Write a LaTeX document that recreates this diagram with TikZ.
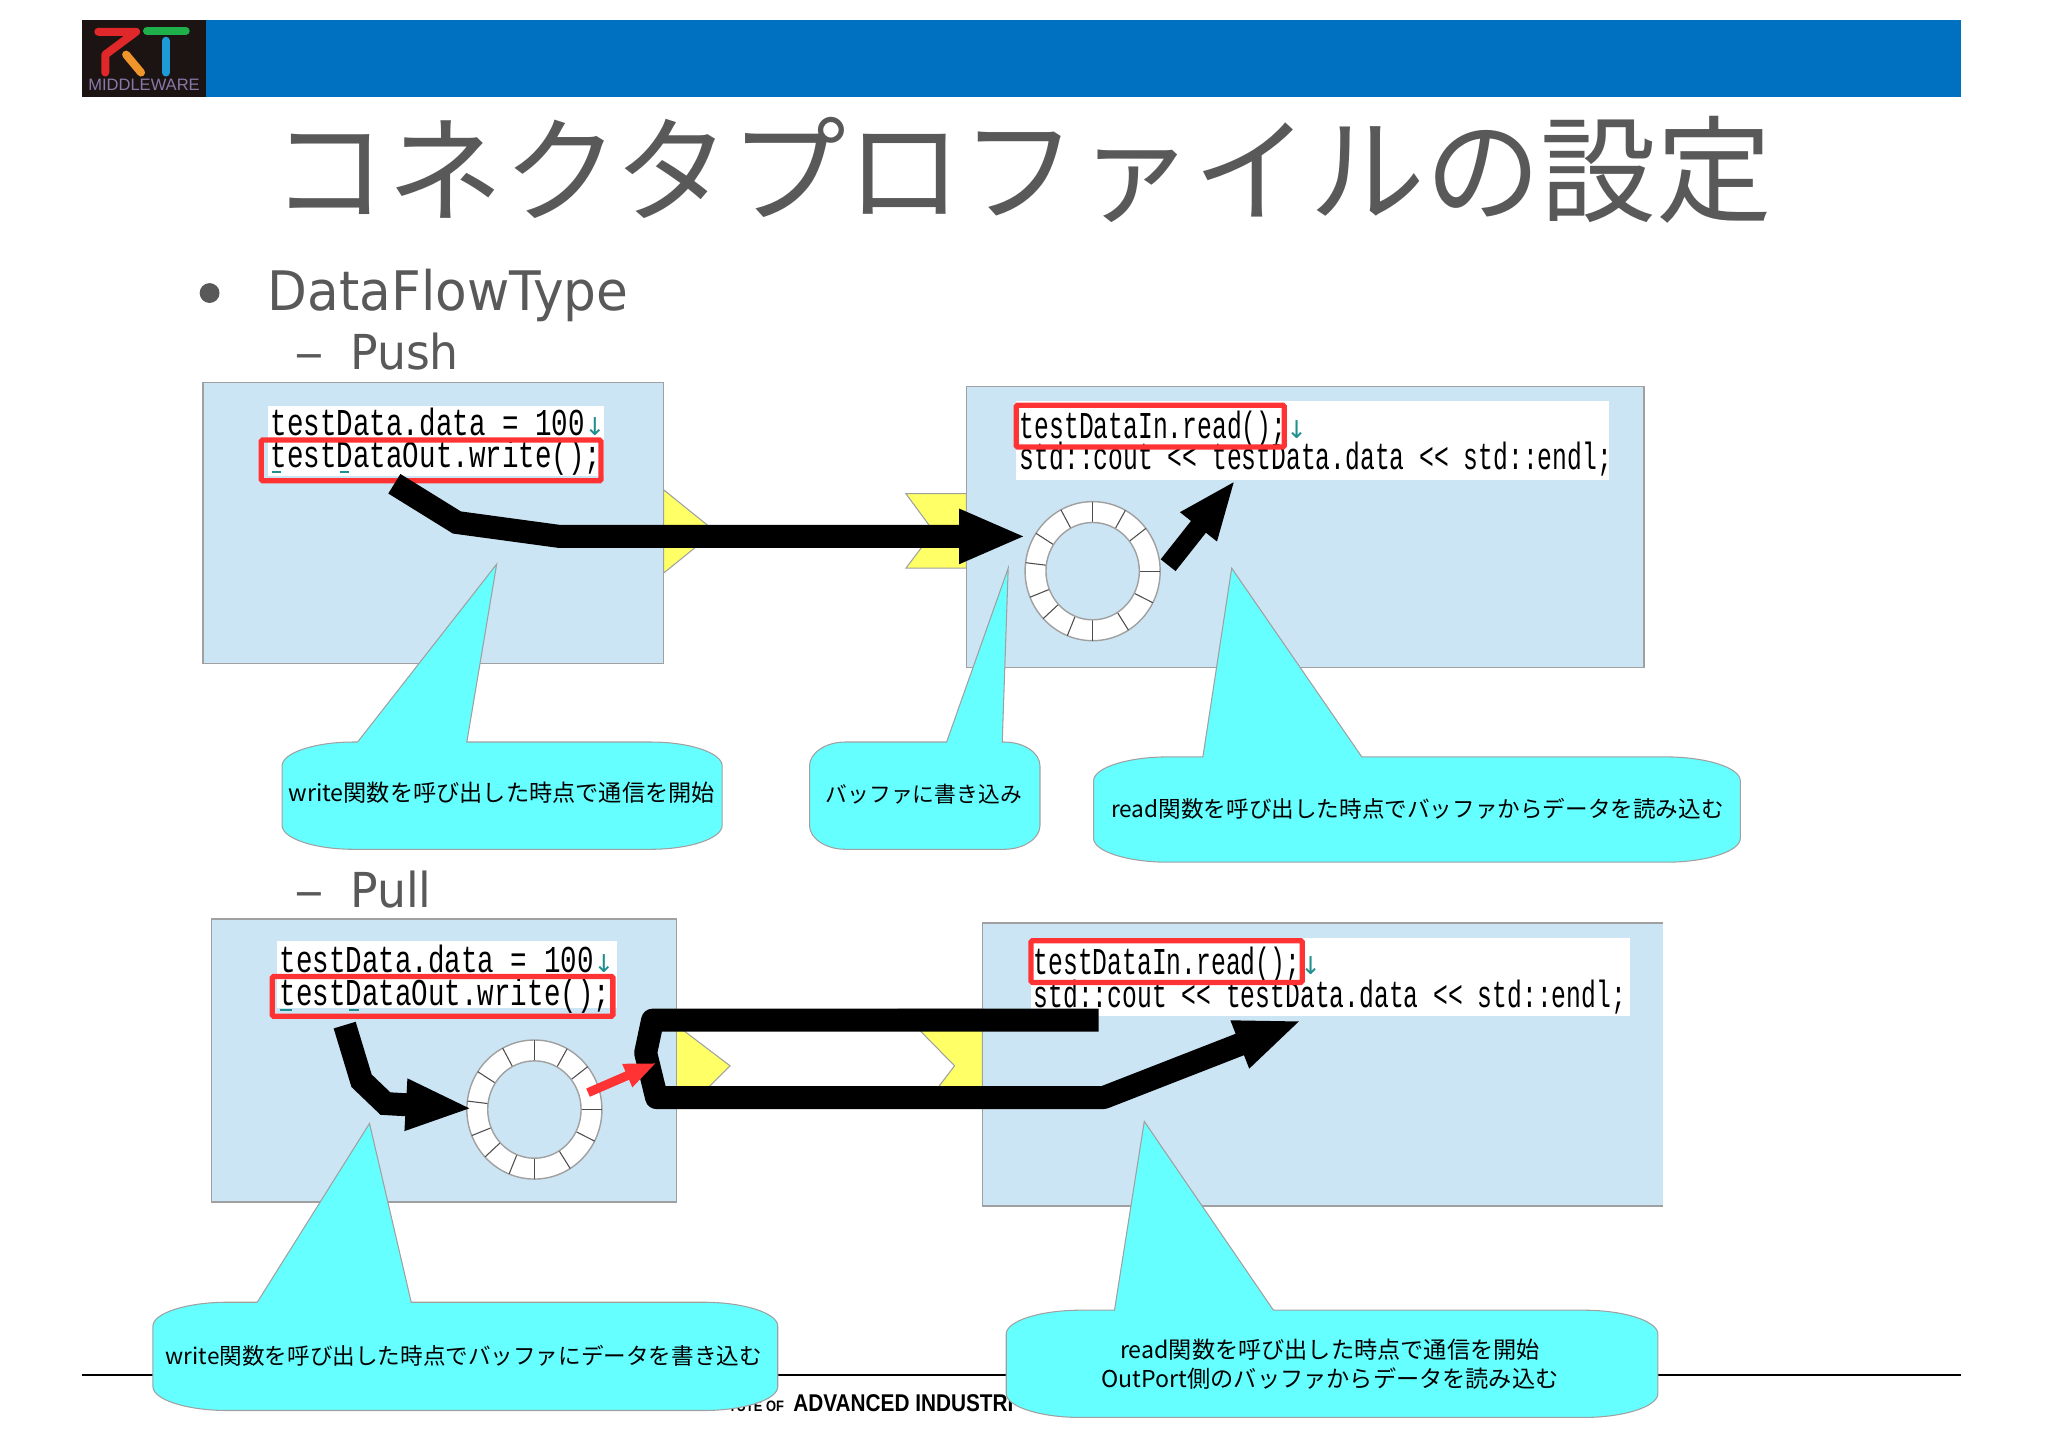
\documentclass[tikz,border=0pt]{standalone}
\usepackage{fontspec}
\setmainfont{DejaVu Sans}[FakeStretch=0.95]
\newfontfamily\cjkfont{Noto Sans CJK JP}
\newfontfamily\codefont{Liberation Mono}[FakeStretch=0.725]
\newfontfamily\codefontn{Liberation Mono}[FakeStretch=0.65]
\newfontfamily\arrowfont{DejaVu Sans}
\newfontfamily\logofont{Liberation Sans}
\newfontfamily\footfont{Liberation Sans}[FakeStretch=0.857]
\usetikzlibrary{arrows.meta}
\definecolor{bandblue}{HTML}{0070C0}
\definecolor{slidegray}{HTML}{595959}
\definecolor{panelblue}{HTML}{CCE5F4}
\definecolor{edgegray}{HTML}{A0A0A0}
\definecolor{portyellow}{HTML}{FFFF66}
\definecolor{calloutcyan}{HTML}{66FFFF}
\definecolor{markred}{HTML}{FF3333}
\definecolor{imeteal}{HTML}{1F8F8F}
\definecolor{logoback}{HTML}{1C1412}
\definecolor{logored}{HTML}{E0282A}
\definecolor{logoorange}{HTML}{F0952B}
\definecolor{logogreen}{HTML}{1FB04B}
\definecolor{logoblue}{HTML}{1E9AD6}
\definecolor{logotext}{HTML}{8878A8}
\newcommand{\wedgecallout}[8]{%
  \draw[callout] ({#1+#5},#2) -- (#6,#2) -- #8 -- (#7,#2) -- ({#3-#5},#2)
    .. controls ({#3-#5*.45},#2) and (#3,{#2+11}) .. (#3,{#2+24}) -- (#3,{#4-24})
    .. controls (#3,{#4-11}) and ({#3-#5*.45},#4) .. ({#3-#5},#4) -- ({#1+#5},#4)
    .. controls ({#1+#5*.45},#4) and (#1,{#4-11}) .. (#1,{#4-24}) -- (#1,{#2+24})
    .. controls (#1,{#2+11}) and ({#1+#5*.45},#2) .. ({#1+#5},#2) -- cycle;}
\newcommand{\downmark}{{\arrowfont\color{imeteal}\fontsize{7pt}{8pt}\selectfont ↓}}
\begin{document}
\begin{tikzpicture}[x=0.00993cm, y=-0.00993cm,
    comp box/.style={draw=edgegray, fill=panelblue, line width=0.5pt},
    port/.style={draw=edgegray, fill=portyellow, line width=0.3pt},
    code panel/.style={fill=white},
    code wide/.style={anchor=base west, inner sep=0pt, font=\codefont\fontsize{10.8pt}{12pt}\selectfont},
    code narrow/.style={anchor=base west, inner sep=0pt, font=\codefontn\fontsize{10.8pt}{12pt}\selectfont},
    red mark/.style={draw=markred, line width=1.5pt, rounded corners=0.4pt},
    ime mark/.style={draw=imeteal, line width=0.7pt},
    callout/.style={draw=edgegray, fill=calloutcyan, line width=0.3pt},
    callout text/.style={inner sep=0pt, align=center, font=\cjkfont\fontsize{6.6pt}{8.2pt}\selectfont},
    heavy arrow/.style={draw=black, line width=0.23cm, miter limit=10, -{Triangle[length=6.7mm,width=5mm]}},
    logo stroke/.style={line width=0.08cm, line cap=round, line join=round},
    slide text/.style={text=slidegray, anchor=base west, inner sep=0pt},
    slide dash/.style={slide text, xscale=1.3}]
  \useasboundingbox (0cm,0cm) rectangle (20.48cm,-14.48cm);
  \fill[white] (0cm,0cm) rectangle (20.48cm,-14.48cm);

  % header
  \fill[bandblue] (83,20) rectangle (1974,98);
  \fill[logoback] (83,20) rectangle (207,98);
  \draw[logo stroke, logored] (99,32) -- (137,32) -- (106,55) -- (106,73);
  \draw[logo stroke, logoorange] (127,55) -- (142,73);
  \draw[logo stroke, logogreen] (148,31) -- (187,31);
  \draw[logo stroke, logoblue] (167,41) -- (167,73);
  \node[inner sep=0pt, text=logotext, font=\logofont\fontsize{4.7pt}{5pt}\selectfont] at (145,85) (logoname) {MIDDLEWARE};

  % title and bullets
  \node[text=slidegray, inner sep=0pt, font=\cjkfont\fontsize{32.95pt}{36pt}\selectfont] at (1029,171) (title) {コネクタプロファイルの設定};
  \fill[slidegray] (211,295) circle (10);
  \node[slide text, font=\fontsize{15.5pt}{18pt}\selectfont] at (269,313) (flowtype) {DataFlowType};
  \node[slide dash, font=\fontsize{13.7pt}{16pt}\selectfont] at (296,372) (pushdash) {–};
  \node[slide text, font=\fontsize{13.7pt}{16pt}\selectfont] at (352,372) (pushlabel) {Push};
  \node[slide dash, font=\fontsize{13.7pt}{16pt}\selectfont] at (296,914) (pulldash) {–};
  \node[slide text, font=\fontsize{13.7pt}{16pt}\selectfont] at (352,914) (pulllabel) {Pull};

  % footer
  \coordinate (footleft) at (83,1384);
  \coordinate (footright) at (1974,1384);
  \draw[black, line width=0.6pt] (footleft) -- (footright);
  \node[anchor=base east, inner sep=0pt, font=\footfont\bfseries\fontsize{4.3pt}{5pt}\selectfont] at (790,1421) (footsmall) {TUTE OF};
  \node[anchor=base west, inner sep=0pt, font=\footfont\bfseries\fontsize{6.9pt}{8pt}\selectfont] at (798,1421) (footbig) {ADVANCED INDUSTRI};

  % ports
  \draw[port] (668,493) -- (720,535) -- (668,577) -- cycle;
  \draw[port] (912,497) -- (973,497) -- (973,572) -- (912,572) -- (940,535) -- cycle;
  \draw[port] (681,1032) -- (735,1073) -- (693,1115) -- (681,1115) -- cycle;
  \draw[port] (905,1016) -- (989,1016) -- (989,1115) -- (929,1115) -- (961,1073) -- cycle;

  % components
  \draw[comp box] (204,385) rectangle (668,668);
  \draw[comp box] (973,389) rectangle (1655,672);
  \draw[comp box] (213,925) rectangle (681,1210);
  \fill[panelblue] (989,929) rectangle (1674,1214);
  \draw[edgegray, line width=0.5pt] (1674,929) -- (989,929) -- (989,1214) -- (1674,1214);

  % source code
  \fill[code panel] (270,409) rectangle (608,479);
  \node[code wide] at (272,438) (pushset) {testData.data = 100\downmark};
  \node[code wide] at (272,471) (pushwrite) {testDataOut.write();};
  \draw[ime mark] (274,475) -- (283,475) (342,475) -- (351,475);
  \draw[red mark] (263,443) rectangle (605,484);

  \fill[code panel] (1023,404) rectangle (1620,483);
  \node[code narrow] at (1026,441) (pushread) {testDataIn.read();\downmark};
  \node[code narrow] at (1026,473) (pushcout) {std::cout << testData.data << std::endl;};
  \draw[red mark] (1023,408) rectangle (1293,450);

  \fill[code panel] (279,947) rectangle (621,1015);
  \node[code wide] at (281,979) (pullset) {testData.data = 100\downmark};
  \node[code wide] at (281,1012) (pullwrite) {testDataOut.write();};
  \draw[ime mark] (282,1017) -- (294,1017) (351,1017) -- (361,1017);
  \draw[red mark] (274,983) rectangle (617,1023);

  \fill[code panel] (1038,944) rectangle (1641,1023);
  \node[code narrow] at (1040,981) (pullread) {testDataIn.read();\downmark};
  \node[code narrow] at (1040,1014) (pullcout) {std::cout << testData.data << std::endl;};
  \draw[red mark] (1038,947) rectangle (1311,989);

  % ring buffers
  \foreach \cx/\cy in {1100/575, 538/1117}{
    \begin{scope}[shift={(\cx,\cy)}]
      \draw[edgegray, fill=white, line width=0.4pt] (0,0) ellipse (68 and 70);
      \foreach \ang in {270,242,213,187,158,137,112,90,58,27,0,322,299}
        \draw[black!70, line width=0.3pt] (\ang:47 and 49) -- (\ang:68 and 70);
      \draw[edgegray, fill=panelblue, line width=0.4pt] (0,0) ellipse (47 and 49);
    \end{scope}
  }

  % callouts
  \wedgecallout{284}{747}{727}{855}{72}{360}{470}{(500,568)}
  \wedgecallout{815}{747}{1047}{855}{36}{953}{1009}{(1015,572)}
  \wedgecallout{1101}{762}{1752}{868}{75}{1211}{1371}{(1240,572)}
  \wedgecallout{154}{1311}{783}{1420}{75}{259}{414}{(372,1131)}
  \wedgecallout{1013}{1319}{1669}{1427}{75}{1122}{1282}{(1152,1129)}
  \node[callout text] at (505,798) (writenote) {write関数を呼び出した時点で通信を開始};
  \node[callout text, font=\cjkfont\fontsize{6.2pt}{8pt}\selectfont] at (930,800) (buffernote) {バッファに書き込み};
  \node[callout text, font=\cjkfont\fontsize{6.43pt}{8pt}\selectfont] at (1427,814) (readnote) {read関数を呼び出した時点でバッファからデータを読み込む};
  \node[callout text, font=\cjkfont\fontsize{6.43pt}{8pt}\selectfont] at (467,1365) (pullwritenote) {write関数を呼び出した時点でバッファにデータを書き込む};
  \node[callout text] at (1339,1373) (pullreadnote) {read関数を呼び出した時点で通信を開始\\OutPort側のバッファからデータを読み込む};

  % data flow
  \coordinate (pushfrom) at (397,487);
  \coordinate (pushbenda) at (460,526);
  \coordinate (pushbendb) at (563,540);
  \coordinate (pushto) at (1033,540);
  \coordinate (ringout) at (1176,569);
  \coordinate (ringoutto) at (1244,483);
  \draw[heavy arrow] (pushfrom) -- (pushbenda) -- (pushbendb) -- (pushto);
  \draw[draw=black, line width=0.19cm, -{Triangle[length=6mm,width=4.2mm]}] (ringout) -- (ringoutto);

  \coordinate (writefrom) at (347,1032);
  \coordinate (writebenda) at (364,1088);
  \coordinate (writebendb) at (388,1111);
  \coordinate (writeto) at (476,1116);
  \draw[draw=black, line width=0.23cm, -{Triangle[length=6.7mm,width=4.7mm]}] (writefrom) -- (writebenda) -- (writebendb) -- (writeto);

  \coordinate (barstart) at (1106,1027);
  \coordinate (bartop) at (657,1027);
  \coordinate (barmid) at (650,1060);
  \coordinate (barlow) at (661,1105);
  \coordinate (barbend) at (1111,1105);
  \coordinate (barto) at (1311,1027);
  \draw[draw=black, line width=0.23cm, line join=round, -{Triangle[length=6.7mm,width=4.6mm]}] (barstart) -- (bartop) -- (barmid) -- (barlow) -- (barbend) -- (barto);

  \coordinate (redfrom) at (592,1100);
  \coordinate (redto) at (661,1070);
  \draw[draw=markred, line width=0.09cm, -{Triangle[length=3.2mm,width=2.3mm]}] (redfrom) -- (redto);
\end{tikzpicture}
\end{document}
